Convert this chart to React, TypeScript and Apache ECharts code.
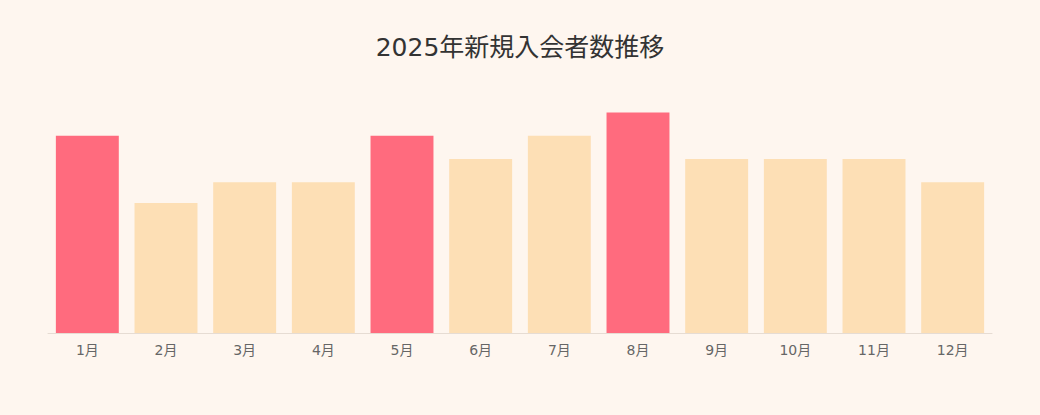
import React, { useEffect, useRef } from 'react';
import * as echarts from 'echarts';

const months = ['1月', '2月', '3月', '4月', '5月', '6月', '7月', '8月', '9月', '10月', '11月', '12月'];
const newMembers = [85, 56, 65, 65, 85, 75, 85, 95, 75, 75, 75, 65];
const highlighted = ['1月', '5月', '8月'];

const FONT = '"DejaVu Sans", "Noto Sans CJK JP", sans-serif';

const App: React.FC = () => {
  const chartRef = useRef<HTMLDivElement | null>(null);

  useEffect(() => {
    document.body.style.margin = '0';
    if (!chartRef.current) return;
    const chart = echarts.init(chartRef.current, undefined, { renderer: 'svg' });

    const option = {
      animation: false,
      backgroundColor: '#fef6ef',
      title: {
        text: '2025年新規入会者数推移',
        left: 'center',
        top: 30,
        textStyle: {
          fontFamily: FONT,
          fontSize: 25,
          fontWeight: 'normal',
          color: '#333333'
        }
      },
      grid: { left: 48, right: 48, top: 101, bottom: 82 },
      xAxis: {
        type: 'category',
        data: months,
        axisLine: { lineStyle: { color: '#e6dcd3' } },
        axisTick: { show: false },
        axisLabel: {
          margin: 10,
          fontSize: 14,
          color: '#666666',
          fontFamily: FONT
        }
      },
      yAxis: {
        type: 'value',
        min: 0,
        max: 100,
        show: false,
        splitLine: { show: false }
      },
      series: [
        {
          name: '新規入会者数',
          type: 'bar',
          barWidth: '80%',
          data: newMembers.map((v, i) => ({
            value: v,
            itemStyle: { color: highlighted.includes(months[i]) ? '#ff6b7e' : '#fddfb5' }
          }))
        }
      ]
    };

    chart.setOption(option);
    return () => {
      chart.dispose();
    };
  }, []);

  return <div ref={chartRef} style={{ width: '1040px', height: '415px' }}></div>;
};

export default App;
